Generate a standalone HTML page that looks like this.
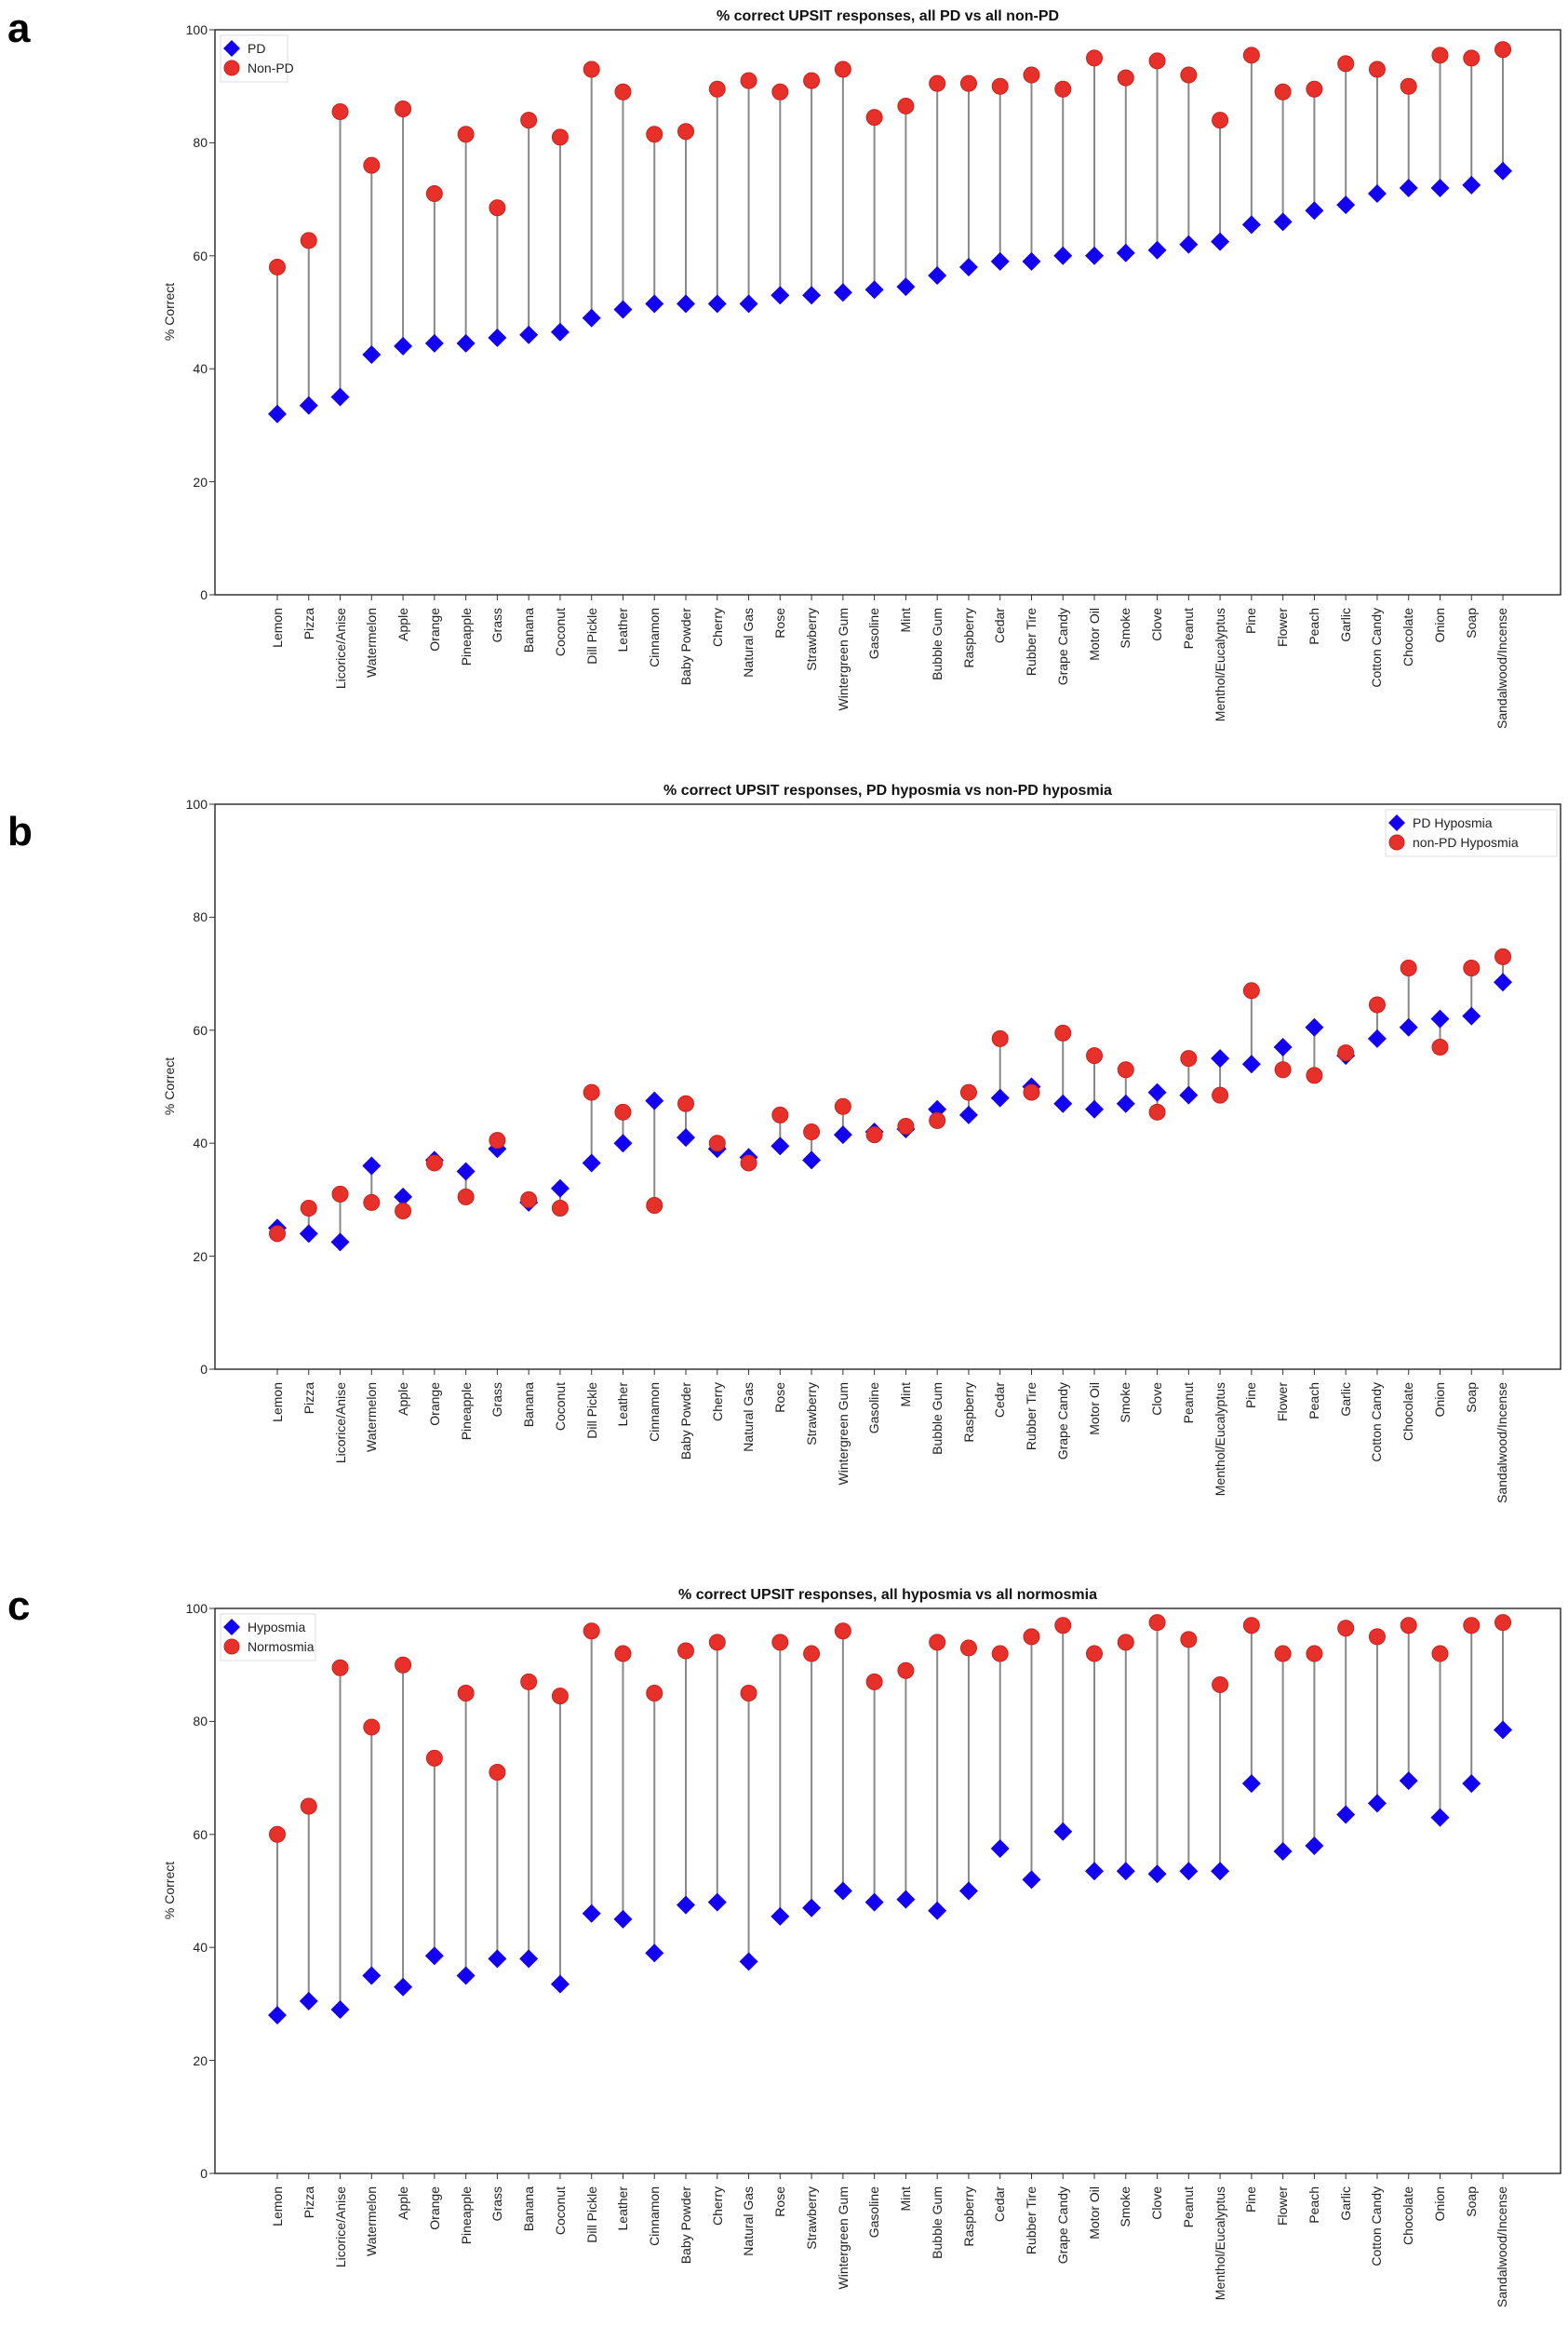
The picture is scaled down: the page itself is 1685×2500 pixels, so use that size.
<!DOCTYPE html>
<html><head><meta charset="utf-8"><style>
body{margin:0;background:#fff}
svg{display:block;font-family:"Liberation Sans","DejaVu Sans",sans-serif}
.tl{font-size:14px;text-anchor:end;fill:#222}
.yl{font-size:14px;text-anchor:end;fill:#222}
.tt{font-size:16px;font-weight:bold;text-anchor:middle;fill:#111}
.pl{font-size:44px;font-weight:bold;fill:#000}
.lg{font-size:14px;fill:#222}
</style></head><body>
<svg id="s" width="1685" height="2500" viewBox="0 0 1685 2500" xmlns="http://www.w3.org/2000/svg">
<rect width="1685" height="2500" fill="#fff"/>
<text class="pl" x="8" y="45">a</text>
<text class="pl" x="8" y="908">b</text>
<text class="pl" x="8" y="1740">c</text>
<text class="tt" x="954" y="22">% correct UPSIT responses, all PD vs all non-PD</text>
<text class="tt" x="954" y="854">% correct UPSIT responses, PD hyposmia vs non-PD hyposmia</text>
<text class="tt" x="954" y="1718">% correct UPSIT responses, all hyposmia vs all normosmia</text>
<g id="p0"></g><g id="p1" transform="translate(0,832)"></g><g id="p2" transform="translate(0,1696)"></g>
<g transform="translate(0,0)">
<text class="yl" x="223" y="644">0</text><text class="yl" x="223" y="523">20</text><text class="yl" x="223" y="401">40</text><text class="yl" x="223" y="280">60</text><text class="yl" x="223" y="158">80</text><text class="yl" x="223" y="37">100</text>
<text class="lg" transform="translate(187,335) rotate(-90)" text-anchor="middle">% Correct</text>
<g id="lab0">
<text class="tl" transform="translate(303,653) rotate(-90)">Lemon</text>
<text class="tl" transform="translate(337,653) rotate(-90)">Pizza</text>
<text class="tl" transform="translate(371,653) rotate(-90)">Licorice/Anise</text>
<text class="tl" transform="translate(404,653) rotate(-90)">Watermelon</text>
<text class="tl" transform="translate(438,653) rotate(-90)">Apple</text>
<text class="tl" transform="translate(472,653) rotate(-90)">Orange</text>
<text class="tl" transform="translate(506,653) rotate(-90)">Pineapple</text>
<text class="tl" transform="translate(539,653) rotate(-90)">Grass</text>
<text class="tl" transform="translate(573,653) rotate(-90)">Banana</text>
<text class="tl" transform="translate(607,653) rotate(-90)">Coconut</text>
<text class="tl" transform="translate(641,653) rotate(-90)">Dill Pickle</text>
<text class="tl" transform="translate(674,653) rotate(-90)">Leather</text>
<text class="tl" transform="translate(708,653) rotate(-90)">Cinnamon</text>
<text class="tl" transform="translate(742,653) rotate(-90)">Baby Powder</text>
<text class="tl" transform="translate(776,653) rotate(-90)">Cherry</text>
<text class="tl" transform="translate(809,653) rotate(-90)">Natural Gas</text>
<text class="tl" transform="translate(843,653) rotate(-90)">Rose</text>
<text class="tl" transform="translate(877,653) rotate(-90)">Strawberry</text>
<text class="tl" transform="translate(911,653) rotate(-90)">Wintergreen Gum</text>
<text class="tl" transform="translate(944,653) rotate(-90)">Gasoline</text>
<text class="tl" transform="translate(978,653) rotate(-90)">Mint</text>
<text class="tl" transform="translate(1012,653) rotate(-90)">Bubble Gum</text>
<text class="tl" transform="translate(1046,653) rotate(-90)">Raspberry</text>
<text class="tl" transform="translate(1079,653) rotate(-90)">Cedar</text>
<text class="tl" transform="translate(1113,653) rotate(-90)">Rubber Tire</text>
<text class="tl" transform="translate(1147,653) rotate(-90)">Grape Candy</text>
<text class="tl" transform="translate(1181,653) rotate(-90)">Motor Oil</text>
<text class="tl" transform="translate(1214,653) rotate(-90)">Smoke</text>
<text class="tl" transform="translate(1248,653) rotate(-90)">Clove</text>
<text class="tl" transform="translate(1282,653) rotate(-90)">Peanut</text>
<text class="tl" transform="translate(1316,653) rotate(-90)">Menthol/Eucalyptus</text>
<text class="tl" transform="translate(1349,653) rotate(-90)">Pine</text>
<text class="tl" transform="translate(1383,653) rotate(-90)">Flower</text>
<text class="tl" transform="translate(1417,653) rotate(-90)">Peach</text>
<text class="tl" transform="translate(1451,653) rotate(-90)">Garlic</text>
<text class="tl" transform="translate(1484,653) rotate(-90)">Cotton Candy</text>
<text class="tl" transform="translate(1518,653) rotate(-90)">Chocolate</text>
<text class="tl" transform="translate(1552,653) rotate(-90)">Onion</text>
<text class="tl" transform="translate(1586,653) rotate(-90)">Soap</text>
<text class="tl" transform="translate(1619,653) rotate(-90)">Sandalwood/Incense</text>
</g>
<rect x="237" y="38" width="72" height="50" fill="#fff" stroke="#ddd"/>
<path d="M249,43 l9,9 l-9,9 l-9,-9z" fill="#1400f0"/><circle cx="249" cy="73" r="8" fill="#e8302a" stroke="#c22" stroke-width="1"/>
<text class="lg" x="266" y="57">PD</text><text class="lg" x="266" y="78">Non-PD</text>
</g>
<g transform="translate(0,832)">
<text class="yl" x="223" y="644">0</text><text class="yl" x="223" y="523">20</text><text class="yl" x="223" y="401">40</text><text class="yl" x="223" y="280">60</text><text class="yl" x="223" y="158">80</text><text class="yl" x="223" y="37">100</text>
<text class="lg" transform="translate(187,335) rotate(-90)" text-anchor="middle">% Correct</text>
<text class="tl" transform="translate(303,653) rotate(-90)">Lemon</text>
<text class="tl" transform="translate(337,653) rotate(-90)">Pizza</text>
<text class="tl" transform="translate(371,653) rotate(-90)">Licorice/Anise</text>
<text class="tl" transform="translate(404,653) rotate(-90)">Watermelon</text>
<text class="tl" transform="translate(438,653) rotate(-90)">Apple</text>
<text class="tl" transform="translate(472,653) rotate(-90)">Orange</text>
<text class="tl" transform="translate(506,653) rotate(-90)">Pineapple</text>
<text class="tl" transform="translate(539,653) rotate(-90)">Grass</text>
<text class="tl" transform="translate(573,653) rotate(-90)">Banana</text>
<text class="tl" transform="translate(607,653) rotate(-90)">Coconut</text>
<text class="tl" transform="translate(641,653) rotate(-90)">Dill Pickle</text>
<text class="tl" transform="translate(674,653) rotate(-90)">Leather</text>
<text class="tl" transform="translate(708,653) rotate(-90)">Cinnamon</text>
<text class="tl" transform="translate(742,653) rotate(-90)">Baby Powder</text>
<text class="tl" transform="translate(776,653) rotate(-90)">Cherry</text>
<text class="tl" transform="translate(809,653) rotate(-90)">Natural Gas</text>
<text class="tl" transform="translate(843,653) rotate(-90)">Rose</text>
<text class="tl" transform="translate(877,653) rotate(-90)">Strawberry</text>
<text class="tl" transform="translate(911,653) rotate(-90)">Wintergreen Gum</text>
<text class="tl" transform="translate(944,653) rotate(-90)">Gasoline</text>
<text class="tl" transform="translate(978,653) rotate(-90)">Mint</text>
<text class="tl" transform="translate(1012,653) rotate(-90)">Bubble Gum</text>
<text class="tl" transform="translate(1046,653) rotate(-90)">Raspberry</text>
<text class="tl" transform="translate(1079,653) rotate(-90)">Cedar</text>
<text class="tl" transform="translate(1113,653) rotate(-90)">Rubber Tire</text>
<text class="tl" transform="translate(1147,653) rotate(-90)">Grape Candy</text>
<text class="tl" transform="translate(1181,653) rotate(-90)">Motor Oil</text>
<text class="tl" transform="translate(1214,653) rotate(-90)">Smoke</text>
<text class="tl" transform="translate(1248,653) rotate(-90)">Clove</text>
<text class="tl" transform="translate(1282,653) rotate(-90)">Peanut</text>
<text class="tl" transform="translate(1316,653) rotate(-90)">Menthol/Eucalyptus</text>
<text class="tl" transform="translate(1349,653) rotate(-90)">Pine</text>
<text class="tl" transform="translate(1383,653) rotate(-90)">Flower</text>
<text class="tl" transform="translate(1417,653) rotate(-90)">Peach</text>
<text class="tl" transform="translate(1451,653) rotate(-90)">Garlic</text>
<text class="tl" transform="translate(1484,653) rotate(-90)">Cotton Candy</text>
<text class="tl" transform="translate(1518,653) rotate(-90)">Chocolate</text>
<text class="tl" transform="translate(1552,653) rotate(-90)">Onion</text>
<text class="tl" transform="translate(1586,653) rotate(-90)">Soap</text>
<text class="tl" transform="translate(1619,653) rotate(-90)">Sandalwood/Incense</text>
<rect x="1489" y="38" width="184" height="50" fill="#fff" stroke="#ddd"/>
<path d="M1501,43 l9,9 l-9,9 l-9,-9z" fill="#1400f0"/><circle cx="1501" cy="73" r="8" fill="#e8302a" stroke="#c22" stroke-width="1"/>
<text class="lg" x="1518" y="57">PD Hyposmia</text><text class="lg" x="1518" y="78">non-PD Hyposmia</text>
</g>
<g transform="translate(0,1696)">
<text class="yl" x="223" y="644">0</text><text class="yl" x="223" y="523">20</text><text class="yl" x="223" y="401">40</text><text class="yl" x="223" y="280">60</text><text class="yl" x="223" y="158">80</text><text class="yl" x="223" y="37">100</text>
<text class="lg" transform="translate(187,335) rotate(-90)" text-anchor="middle">% Correct</text>
<text class="tl" transform="translate(303,653) rotate(-90)">Lemon</text>
<text class="tl" transform="translate(337,653) rotate(-90)">Pizza</text>
<text class="tl" transform="translate(371,653) rotate(-90)">Licorice/Anise</text>
<text class="tl" transform="translate(404,653) rotate(-90)">Watermelon</text>
<text class="tl" transform="translate(438,653) rotate(-90)">Apple</text>
<text class="tl" transform="translate(472,653) rotate(-90)">Orange</text>
<text class="tl" transform="translate(506,653) rotate(-90)">Pineapple</text>
<text class="tl" transform="translate(539,653) rotate(-90)">Grass</text>
<text class="tl" transform="translate(573,653) rotate(-90)">Banana</text>
<text class="tl" transform="translate(607,653) rotate(-90)">Coconut</text>
<text class="tl" transform="translate(641,653) rotate(-90)">Dill Pickle</text>
<text class="tl" transform="translate(674,653) rotate(-90)">Leather</text>
<text class="tl" transform="translate(708,653) rotate(-90)">Cinnamon</text>
<text class="tl" transform="translate(742,653) rotate(-90)">Baby Powder</text>
<text class="tl" transform="translate(776,653) rotate(-90)">Cherry</text>
<text class="tl" transform="translate(809,653) rotate(-90)">Natural Gas</text>
<text class="tl" transform="translate(843,653) rotate(-90)">Rose</text>
<text class="tl" transform="translate(877,653) rotate(-90)">Strawberry</text>
<text class="tl" transform="translate(911,653) rotate(-90)">Wintergreen Gum</text>
<text class="tl" transform="translate(944,653) rotate(-90)">Gasoline</text>
<text class="tl" transform="translate(978,653) rotate(-90)">Mint</text>
<text class="tl" transform="translate(1012,653) rotate(-90)">Bubble Gum</text>
<text class="tl" transform="translate(1046,653) rotate(-90)">Raspberry</text>
<text class="tl" transform="translate(1079,653) rotate(-90)">Cedar</text>
<text class="tl" transform="translate(1113,653) rotate(-90)">Rubber Tire</text>
<text class="tl" transform="translate(1147,653) rotate(-90)">Grape Candy</text>
<text class="tl" transform="translate(1181,653) rotate(-90)">Motor Oil</text>
<text class="tl" transform="translate(1214,653) rotate(-90)">Smoke</text>
<text class="tl" transform="translate(1248,653) rotate(-90)">Clove</text>
<text class="tl" transform="translate(1282,653) rotate(-90)">Peanut</text>
<text class="tl" transform="translate(1316,653) rotate(-90)">Menthol/Eucalyptus</text>
<text class="tl" transform="translate(1349,653) rotate(-90)">Pine</text>
<text class="tl" transform="translate(1383,653) rotate(-90)">Flower</text>
<text class="tl" transform="translate(1417,653) rotate(-90)">Peach</text>
<text class="tl" transform="translate(1451,653) rotate(-90)">Garlic</text>
<text class="tl" transform="translate(1484,653) rotate(-90)">Cotton Candy</text>
<text class="tl" transform="translate(1518,653) rotate(-90)">Chocolate</text>
<text class="tl" transform="translate(1552,653) rotate(-90)">Onion</text>
<text class="tl" transform="translate(1586,653) rotate(-90)">Soap</text>
<text class="tl" transform="translate(1619,653) rotate(-90)">Sandalwood/Incense</text>
<rect x="237" y="38" width="102" height="50" fill="#fff" stroke="#ddd"/>
<path d="M249,43 l9,9 l-9,9 l-9,-9z" fill="#1400f0"/><circle cx="249" cy="73" r="8" fill="#e8302a" stroke="#c22" stroke-width="1"/>
<text class="lg" x="266" y="57">Hyposmia</text><text class="lg" x="266" y="78">Normosmia</text>
</g>
</svg>
<script>
var B=[[32,33.5,35,42.5,44,44.5,44.5,45.5,46,46.5,49,50.5,51.5,51.5,51.5,51.5,53,53,53.5,54,54.5,56.5,58,59,59,60,60,60.5,61,62,62.5,65.5,66,68,69,71,72,72,72.5,75],
[25,24,22.5,36,30.5,37,35,39,29.5,32,36.5,40,47.5,41,39,37.5,39.5,37,41.5,42,42.5,46,45,48,50,47,46,47,49,48.5,55,54,57,60.5,55.5,58.5,60.5,62,62.5,68.5],
[28,30.5,29,35,33,38.5,35,38,38,33.5,46,45,39,47.5,48,37.5,45.5,47,50,48,48.5,46.5,50,57.5,52,60.5,53.5,53.5,53,53.5,53.5,69,57,58,63.5,65.5,69.5,63,69,78.5]];
var R=[[58,62.7,85.5,76,86,71,81.5,68.5,84,81,93,89,81.5,82,89.5,91,89,91,93,84.5,86.5,90.5,90.5,90,92,89.5,95,91.5,94.5,92,84,95.5,89,89.5,94,93,90,95.5,95,96.5],
[24,28.5,31,29.5,28,36.5,30.5,40.5,30,28.5,49,45.5,29,47,40,36.5,45,42,46.5,41.5,43,44,49,58.5,49,59.5,55.5,53,45.5,55,48.5,67,53,52,56,64.5,71,57,71,73],
[60,65,89.5,79,90,73.5,85,71,87,84.5,96,92,85,92.5,94,85,94,92,96,87,89,94,93,92,95,97,92,94,97.5,94.5,86.5,97,92,92,96.5,95,97,92,97,97.5]];
for(var p=0;p<3;p++){var h='';
h+='<rect x="231" y="32" width="1446" height="607" fill="none" stroke="#333" stroke-width="1.5"/>';
for(var t=0;t<=100;t+=20){var y=639-t*6.07;h+='<line x1="225" x2="231" y1="'+y+'" y2="'+y+'" stroke="#333"/>';}
var ls='',ds='',cs='';
for(var i=0;i<40;i++){var x=298+i*33.77;var yb=639-B[p][i]*6.07,yr=639-R[p][i]*6.07;
h+='<line x1="'+x+'" x2="'+x+'" y1="639" y2="645" stroke="#333"/>';
ls+='<line x1="'+x+'" x2="'+x+'" y1="'+yb+'" y2="'+yr+'" stroke="#888" stroke-width="2"/>';
ds+='<path d="M'+x+','+(yb-10)+' l10,10 l-10,10 l-10,-10z" fill="#1400f0"/>';
cs+='<circle cx="'+x+'" cy="'+yr+'" r="8.5" fill="#e8302a" stroke="#c8221c" stroke-width="1"/>';}
document.getElementById('p'+p).innerHTML=h+ls+ds+cs;}
</script>
</body></html>
